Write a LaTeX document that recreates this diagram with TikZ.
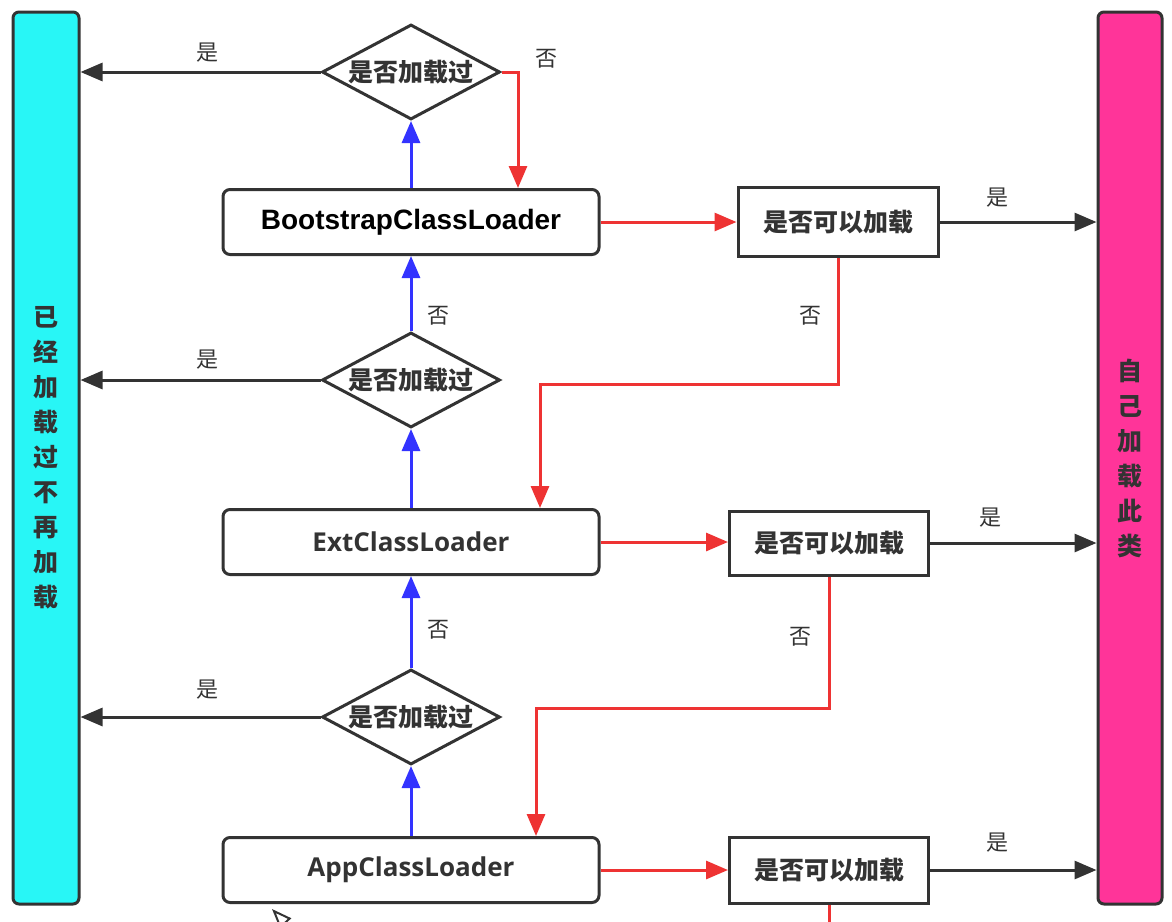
\documentclass[tikz,border=0pt]{standalone}
\usepackage{fontspec}
\newfontfamily\cjk{Noto Sans CJK SC}
\newfontfamily\bootfont{Liberation Sans}
\newfontfamily\osfont{Open Sans}
\usetikzlibrary{shapes.geometric,arrows.meta}
\definecolor{dk}{RGB}{51,51,51}
\definecolor{cy}{RGB}{40,246,246}
\definecolor{pk}{RGB}{255,52,153}
\definecolor{bl}{RGB}{51,51,255}
\definecolor{rd}{RGB}{238,51,51}
\tikzset{
  bar/.style={draw=dk, line width=3pt, rounded corners=6pt, minimum width=66pt, minimum height=892pt, inner sep=0pt,
     align=center, font=\cjk\bfseries\fontsize{25}{35}\selectfont, text=dk},
  loader/.style={draw=dk, line width=3pt, rounded corners=7pt, fill=white, minimum width=376pt, minimum height=65pt, inner sep=0pt},
  decide/.style={diamond, draw=dk, line width=3pt, fill=white, minimum width=178pt, minimum height=95pt, inner sep=0pt,
     font=\cjk\bfseries\fontsize{25}{25}\selectfont, text=dk},
  canbox/.style={draw=dk, line width=3pt, fill=white, minimum width=199pt, minimum height=66pt, inner sep=0pt,
     font=\cjk\bfseries\fontsize{25}{25}\selectfont, text=dk},
  lbl/.style={font=\cjk\fontsize{22}{22}\selectfont, text=dk, inner sep=0pt},
  yesarr/.style={draw=dk, line width=3pt, -{Triangle[length=22pt,width=18pt]}},
  bluearr/.style={draw=bl, line width=3pt, -{Triangle[length=22pt,width=18pt]}},
  redarr/.style={draw=rd, line width=3pt, -{Triangle[length=22pt,width=18pt]}},
  redline/.style={draw=rd, line width=3pt},
}
\begin{document}
\begin{tikzpicture}[x=1pt,y=-1pt]
\useasboundingbox (0,0) rectangle (1172,921);
\fill[white] (0,0) rectangle (1172,921);

% side bars
\node[bar, fill=cy] (lb) at (46,458) {已\\经\\加\\载\\过\\不\\再\\加\\载};
\node[bar, fill=pk, minimum width=64pt] (rb) at (1130,458) {自\\己\\加\\载\\此\\类};

% loaders
\node[loader, font=\bootfont\bfseries\fontsize{28}{28}\selectfont, text=black] (boot) at (411,222) {BootstrapClassLoader};
\node[loader, font=\osfont\bfseries\fontsize{26}{26}\selectfont, text=dk] (ext) at (411,542) {ExtClassLoader};
\node[loader, font=\osfont\bfseries\fontsize{26}{26}\selectfont, text=dk] (app) at (411,870) {AppClassLoader};

% decisions
\node[decide] (d1) at (411,72) {\makebox[0pt]{是否加载过}};
\node[decide] (d2) at (411,380) {\makebox[0pt]{是否加载过}};
\node[decide] (d3) at (411,717) {\makebox[0pt]{是否加载过}};

% can-load boxes
\node[canbox, minimum width=200pt, minimum height=69pt] (c1) at (838,222) {是否可以加载};
\node[canbox, minimum height=64pt] (c2) at (829,543) {是否可以加载};
\node[canbox] (c3) at (829,870) {是否可以加载};

% blue upward arrows
\draw[bluearr] (boot.north) -- (d1.south);
\draw[bluearr] (d2.north) -- (boot.south);
\draw[bluearr] (ext.north) -- (d2.south);
\draw[bluearr] (d3.north) -- (ext.south);
\draw[bluearr] (app.north) -- (d3.south);

% yes: already loaded
\draw[yesarr] (d1.west) -- (d1.west -| lb.east);
\draw[yesarr] (d2.west) -- (d2.west -| lb.east);
\draw[yesarr] (d3.west) -- (d3.west -| lb.east);

% yes: load itself
\draw[yesarr] (c1.east) -- (c1.east -| rb.west);
\draw[yesarr] (c2.east) -- (c2.east -| rb.west);
\draw[yesarr] (c3.east) -- (c3.east -| rb.west);

% red paths
\draw[redarr] (d1.east) -| ([xshift=107pt]boot.north);
\draw[redarr] (boot.east) -- (boot.east -| c1.west);
\draw[redarr] (ext.east) -- (ext.east -| c2.west);
\draw[redarr] (app.east) -- (app.east -| c3.west);
\draw[redarr] (c1.south) -- ++(0,126) -| ([xshift=129pt]ext.north);
\draw[redarr] (c2.south) -- ++(0,132) -| ([xshift=125pt]app.north);

% cut-off items at the bottom edge
\coordinate (cutA) at (829,940);
\coordinate (cutB) at (320,960);
\coordinate (cutC) at (272,909);
\begin{scope}
\clip (0,0) rectangle (1172,921);
\draw[redline] (c3.south) -- (cutA);
\draw[draw=dk, line width=2pt, -{Triangle[open,length=20pt,width=15pt]}] (cutB) -- (cutC);
\end{scope}

% labels
\node[lbl] (y1) at (207,53) {是};
\node[lbl] (y2) at (207,360) {是};
\node[lbl] (y3) at (207,690) {是};
\node[lbl] (n1) at (546,59) {否};
\node[lbl] (n2) at (438,316) {否};
\node[lbl] (n3) at (438,630) {否};
\node[lbl] (n4) at (810,316) {否};
\node[lbl] (n5) at (800,637) {否};
\node[lbl] (y4) at (997,198) {是};
\node[lbl] (y5) at (990,518) {是};
\node[lbl] (y6) at (997,843) {是};
\end{tikzpicture}
\end{document}
